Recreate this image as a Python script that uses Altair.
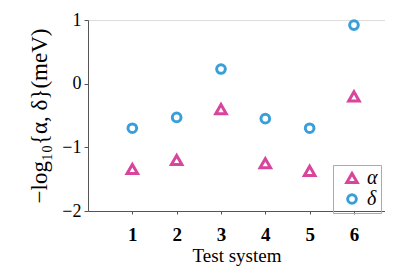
import altair as alt
import pandas as pd

systems = [1, 2, 3, 4, 5, 6]
alpha_vals = [-1.34, -1.20, -0.40, -1.25, -1.37, -0.20]
delta_vals = [-0.70, -0.53, 0.23, -0.55, -0.70, 0.92]
series_names = ["α", "δ"]
colors = ["#d9449c", "#3a9fd8"]
shapes = ["triangle-up", "circle"]

rows = []
for s, a, d in zip(systems, alpha_vals, delta_vals):
    rows.append({"system": s, "value": a, "param": series_names[0]})
    rows.append({"system": s, "value": d, "param": series_names[1]})
df = pd.DataFrame(rows)

serif = "Liberation Serif"

chart = alt.Chart(df).mark_point(filled=False, strokeWidth=3, opacity=1).encode(
    x=alt.X("system:Q",
            scale=alt.Scale(domain=[0, 6.7], nice=False),
            axis=alt.Axis(values=systems, title="Test system", grid=False,
                          labelFont=serif, labelFontWeight="bold", labelFontSize=19,
                          labelColor="black", labelPadding=11, tickSize=3,
                          titleFont=serif, titleFontSize=19, titleFontWeight="normal",
                          titleColor="black", titlePadding=2,
                          domainColor="#555", tickColor="#555")),
    y=alt.Y("value:Q",
            scale=alt.Scale(domain=[-2, 1], nice=False),
            axis=alt.Axis(values=[-2, -1, 0, 1], format="d", title="−log₁₀{α, δ}(meV)",
                          grid=False, labelFont=serif, labelFontSize=18,
                          labelColor="black", labelPadding=3, tickSize=4,
                          titleFont=serif, titleFontSize=23, titleFontWeight="normal",
                          titleColor="black", titlePadding=10,
                          domainColor="#555", tickColor="#555")),
    color=alt.Color("param:N", scale=alt.Scale(domain=series_names, range=colors),
                    legend=alt.Legend(title=None, orient="none", legendX=245, legendY=145,
                                      labelFont=serif, labelFontStyle="italic",
                                      labelFontSize=20, labelColor="black",
                                      symbolSize=70, symbolStrokeWidth=3,
                                      symbolOffset=6,
                                      strokeColor="#aaa", padding=3, rowPadding=-3,
                                      labelOffset=5, labelLimit=40)),
    shape=alt.Shape("param:N", scale=alt.Scale(domain=series_names, range=shapes)),
    size=alt.Size("param:N", scale=alt.Scale(domain=series_names, range=[110, 75]),
                  legend=None),
).properties(
    width=297, height=191,
    autosize=alt.AutoSizeParams(type="none"),
    padding={"left": 80, "top": 12, "right": 0, "bottom": 57},
).configure_view(stroke=None).configure(background="white")

chart.save("out.html", embed_options={"renderer": "svg", "actions": False})
